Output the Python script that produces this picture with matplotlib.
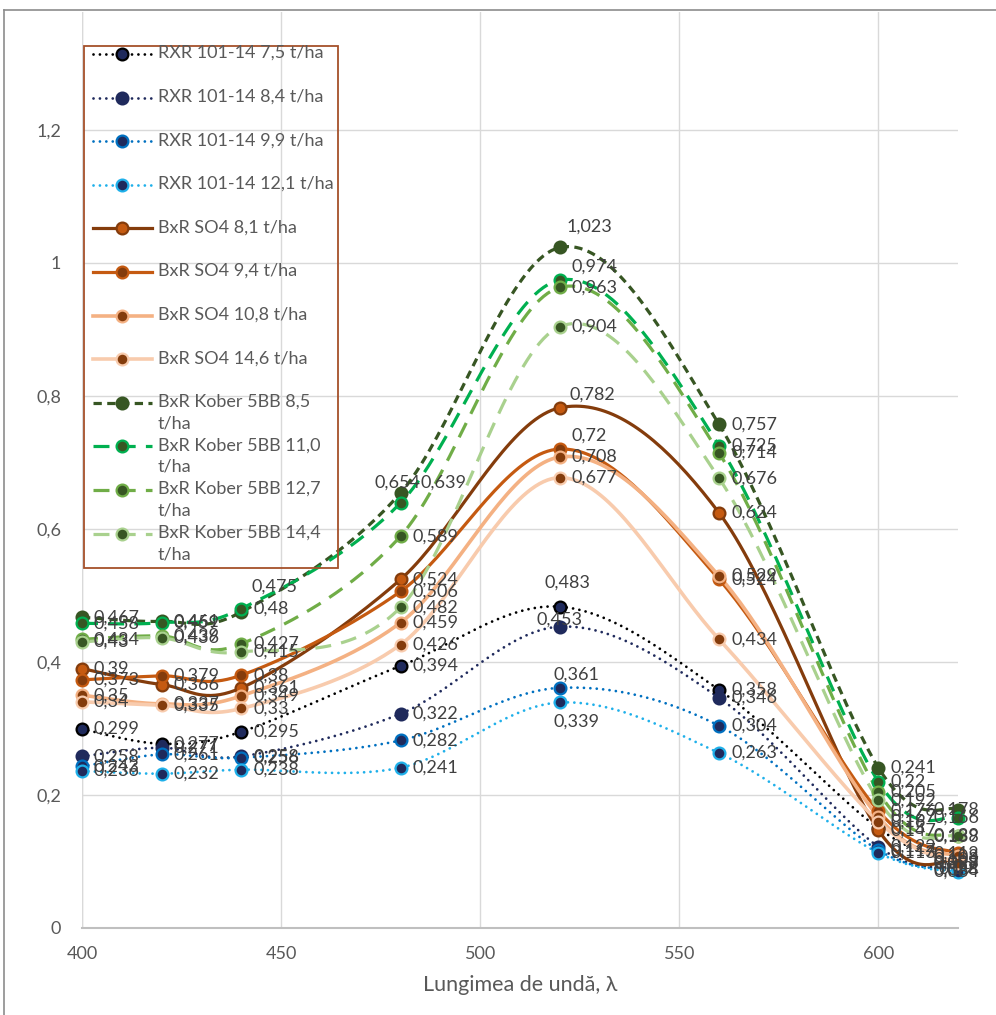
import numpy as np
import matplotlib
matplotlib.use('Agg')
import matplotlib.pyplot as plt
from matplotlib.lines import Line2D
from matplotlib.patches import Rectangle

# ---------------- data ----------------
wavelengths = [400, 420, 440, 480, 520, 560, 600, 620]

series_names = [
    "RXR 101-14 7,5 t/ha", "RXR 101-14 8,4 t/ha", "RXR 101-14 9,9 t/ha", "RXR 101-14 12,1 t/ha",
    "BxR SO4 8,1 t/ha", "BxR SO4 9,4 t/ha", "BxR SO4 10,8 t/ha", "BxR SO4 14,6 t/ha",
    "BxR Kober 5BB 8,5\nt/ha", "BxR Kober 5BB 11,0\nt/ha", "BxR Kober 5BB 12,7\nt/ha", "BxR Kober 5BB 14,4\nt/ha",
]

rxr_7_5 = [0.299, 0.277, 0.295, 0.394, 0.483, 0.358, 0.150, 0.097]
rxr_8_4 = [0.258, 0.271, 0.258, 0.322, 0.453, 0.346, 0.122, 0.090]
rxr_9_9 = [0.243, 0.261, 0.256, 0.282, 0.361, 0.304, 0.117, 0.088]
rxr_12_1 = [0.236, 0.232, 0.238, 0.241, 0.339, 0.263, 0.113, 0.084]

so4_8_1 = [0.390, 0.366, 0.361, 0.524, 0.782, 0.624, 0.147, 0.103]
so4_9_4 = [0.373, 0.379, 0.380, 0.506, 0.720, 0.524, 0.176, 0.112]
so4_10_8 = [0.350, 0.337, 0.349, 0.459, 0.708, 0.529, 0.167, 0.108]
so4_14_6 = [0.340, 0.335, 0.330, 0.426, 0.677, 0.434, 0.160, 0.098]

kober_8_5 = [0.467, 0.461, 0.475, 0.654, 1.023, 0.757, 0.241, 0.178]
kober_11_0 = [0.458, 0.459, 0.480, 0.639, 0.974, 0.725, 0.220, 0.166]
kober_12_7 = [0.434, 0.439, 0.427, 0.589, 0.963, 0.714, 0.205, 0.139]
kober_14_4 = [0.430, 0.436, 0.415, 0.482, 0.904, 0.676, 0.192, 0.138]

all_series = [rxr_7_5, rxr_8_4, rxr_9_9, rxr_12_1,
              so4_8_1, so4_9_4, so4_10_8, so4_14_6,
              kober_8_5, kober_11_0, kober_12_7, kober_14_4]

y_ticks = [0, 0.2, 0.4, 0.6, 0.8, 1.0, 1.2]
y_tick_labels = ["0", "0,2", "0,4", "0,6", "0,8", "1", "1,2"]
x_ticks = [400, 450, 500, 550, 600]
x_label = "Lungimea de undă, λ"

# ---------------- styles ----------------
DOT = (0, (0.01, 2.3))
DASH = (0, (2.6, 1.7))
LDASH = (0, (5.0, 3.2))
NAVY = "#1f2a5c"
BROWN = "#843c0c"
ORANGE = "#c55a11"
DGREEN = "#375623"
styles = [
    dict(color="#000000", ls=DOT, lw=2.0, mfc=NAVY, mec="#000000"),
    dict(color=NAVY, ls=DOT, lw=2.0, mfc=NAVY, mec=NAVY),
    dict(color="#0070c0", ls=DOT, lw=2.0, mfc=NAVY, mec="#0070c0"),
    dict(color="#1fb0ea", ls=DOT, lw=2.0, mfc=NAVY, mec="#1fb0ea"),
    dict(color=BROWN, ls="-", lw=2.3, mfc=ORANGE, mec=BROWN),
    dict(color=ORANGE, ls="-", lw=2.3, mfc=BROWN, mec=ORANGE),
    dict(color="#f4b183", ls="-", lw=2.6, mfc=BROWN, mec="#f4b183"),
    dict(color="#f8cbad", ls="-", lw=2.6, mfc=BROWN, mec="#f8cbad"),
    dict(color=DGREEN, ls=DASH, lw=2.3, mfc=DGREEN, mec=DGREEN),
    dict(color="#00b050", ls=LDASH, lw=2.3, mfc=DGREEN, mec="#00b050"),
    dict(color="#70ad47", ls=LDASH, lw=2.3, mfc=DGREEN, mec="#70ad47"),
    dict(color="#a9d18e", ls=LDASH, lw=2.3, mfc=DGREEN, mec="#a9d18e"),
]

# label placement overrides: (series, point) -> (dx px, dy px, ha)
label_pos = {
    (8, 4): (30, 21, "center"),
    (9, 4): (12, 13, "left"),
    (4, 4): (10, 13, "left"),
    (5, 4): (12, 13, "left"),
    (0, 4): (8, 24, "center"),
    (1, 4): (0, 7, "center"),
    (2, 4): (17, 13, "center"),
    (3, 4): (17, -19, "center"),
    (8, 3): (-3, 10, "center"),
    (9, 3): (20, 20, "left"),
    (8, 2): (10, 25, "left"),
}
last_label = (-2, 0, "center")   # labels of the last point are pulled inside the chart

FONT = ["Lato", "DejaVu Sans"]
plt.rcParams["font.family"] = FONT
FS = 13

W, H = 996, 1015
fig = plt.figure(figsize=(W / 100, H / 100), dpi=100)
ax_l, ax_r, ax_b, ax_t = 82, 958, 928, 12
ax = fig.add_axes([ax_l / W, 1 - ax_b / H, (ax_r - ax_l) / W, (ax_b - ax_t) / H])
ax.set_facecolor("none")
ax.set_xlim(400, 620)
ax.set_ylim(0, 1.377)


def smooth(xs, ys, n=40):
    P = np.column_stack([np.asarray(xs, float), np.asarray(ys, float)])
    out = [P[0]]
    t = np.linspace(0, 1, n)[1:, None]
    for i in range(len(P) - 1):
        p0 = P[i - 1] if i > 0 else P[i]
        p1, p2 = P[i], P[i + 1]
        p3 = P[i + 2] if i + 2 < len(P) else P[i + 1]
        c1 = p1 + (p2 - p0) / 6.0
        c2 = p2 - (p3 - p1) / 6.0
        seg = (1 - t) ** 3 * p1 + 3 * (1 - t) ** 2 * t * c1 + 3 * (1 - t) * t ** 2 * c2 + t ** 3 * p2
        out.extend(seg)
    return np.array(out)


def fmt(v):
    return ("%g" % v).replace(".", ",")


for si, (vals, st) in enumerate(zip(all_series, styles)):
    cur = smooth(wavelengths, vals)
    ax.plot(cur[:, 0], cur[:, 1], color=st["color"], linestyle=st["ls"], lw=st["lw"],
            dash_capstyle="round" if st["ls"] is DOT else "butt", solid_capstyle="round",
            zorder=3 + si * 0.1, clip_on=False)
    ax.plot(wavelengths, vals, linestyle="none", marker="o", markersize=8.5,
            markerfacecolor=st["mfc"], markeredgecolor=st["mec"], markeredgewidth=1.6,
            zorder=4 + si * 0.1, clip_on=False)
    for pi, (x, v) in enumerate(zip(wavelengths, vals)):
        default = last_label if pi == len(wavelengths) - 1 else (12, 0, "left")
        dx, dy, ha = label_pos.get((si, pi), default)
        ax.annotate(fmt(v), (x, v), xytext=(dx * 0.72, dy * 0.72), textcoords="offset points",
                    ha=ha, va="center", fontsize=FS, color="#404040", zorder=10,
                    annotation_clip=False)

# axes styling
ax.set_yticks(y_ticks)
ax.set_yticklabels(y_tick_labels)
ax.set_xticks(x_ticks)
ax.tick_params(axis="both", length=0, labelsize=FS, labelcolor="#595959")
ax.tick_params(axis="x", pad=13)
ax.tick_params(axis="y", pad=15)
ax.grid(True, color="#d9d9d9", lw=1.0, zorder=0)
ax.set_axisbelow(True)
for s in ["top", "right", "left"]:
    ax.spines[s].set_visible(False)
ax.spines["bottom"].set_color("#bfbfbf")
ax.spines["bottom"].set_linewidth(1.5)
ax.axvline(400, color="#d9d9d9", lw=1.0, zorder=0)
ax.set_xlabel(x_label, fontsize=15.5, color="#595959", labelpad=9)

# chart area frame (top and left visible)
fig.add_artist(Line2D([4 / W, 1.0], [1 - 10 / H, 1 - 10 / H], transform=fig.transFigure,
                      color="#8c8c8c", lw=1.2))
fig.add_artist(Line2D([4 / W, 4 / W], [0, 1 - 10 / H], transform=fig.transFigure,
                      color="#8c8c8c", lw=1.2))

# legend (manual, Excel style)
fig.add_artist(Rectangle((84 / W, 1 - 568 / H), (338 - 84) / W, (568 - 46) / H,
                         transform=fig.transFigure, fill=False, edgecolor="#a5502a", lw=1.3,
                         zorder=20))
for i, (name, st) in enumerate(zip(series_names, styles)):
    y = 54 + 43.6 * i
    yf = 1 - y / H
    fig.add_artist(Line2D([93 / W, 152 / W], [yf, yf], transform=fig.transFigure,
                          color=st["color"], linestyle=st["ls"], lw=st["lw"],
                          dash_capstyle="round" if st["ls"] is DOT else "butt", zorder=21))
    fig.add_artist(Line2D([122 / W], [yf], transform=fig.transFigure, linestyle="none",
                          marker="o", markersize=8.5, markerfacecolor=st["mfc"],
                          markeredgecolor=st["mec"], markeredgewidth=1.6, zorder=22))
    fig.text(158 / W, 1 - (y - 9) / H, name, ha="left", va="top", fontsize=FS,
             color="#595959", linespacing=1.42, zorder=22)

fig.savefig("out.png", dpi=100)
